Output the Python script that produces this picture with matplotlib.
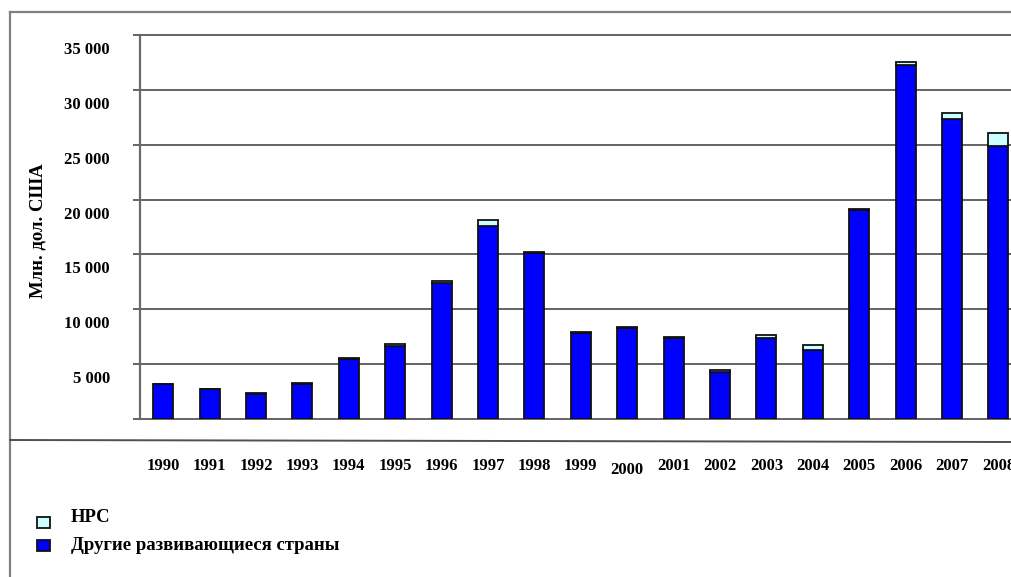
import matplotlib
matplotlib.use("Agg")
import matplotlib.pyplot as plt
import matplotlib.transforms as mtransforms
from matplotlib.patches import Rectangle
from matplotlib.lines import Line2D
import numpy as np

years = ["1990", "1991", "1992", "1993", "1994", "1995", "1996", "1997", "1998", "1999",
         "2000", "2001", "2002", "2003", "2004", "2005", "2006", "2007", "2008"]
other = [3190, 2730, 2320, 3235, 5510, 6650, 12400, 17620, 15130, 7820,
         8250, 7340, 4240, 7350, 6290, 19010, 32260, 27340, 24880]
hpc = [40, 30, 30, 40, 60, 200, 180, 500, 120, 80,
       170, 100, 200, 330, 450, 100, 300, 550, 1160]
yticks = [5000, 10000, 15000, 20000, 25000, 30000, 35000]
ytick_labels = ["5 000", "10 000", "15 000", "20 000", "25 000", "30 000", "35 000"]
series_names = ["НРС", "Другие развивающиеся страны"]
ylabel = "Млн. дол. США"

W, H = 1011, 577
fig = plt.figure(figsize=(W / 100, H / 100), dpi=100)
fig.patch.set_facecolor("white")

serif = ["Liberation Serif", "DejaVu Serif"]
fs = 12

# axes in pixel layout: left 140, baseline at y=419 (from top), top 35
ax_left, ax_top, ax_bottom = 140, 35, 419
ax_w = 46.4 * 19
ax = fig.add_axes([ax_left / W, (H - ax_bottom) / H, ax_w / W, (ax_bottom - ax_top) / H])
ax.set_facecolor("white")
x = np.arange(len(years))
ax.set_xlim(-0.5, len(years) - 0.5)
ax.set_ylim(0, 35000)

for v in [0] + yticks:
    ax.axhline(v, color="#3a3a3a", lw=1.1, zorder=1, clip_on=False)
ax.set_yticks([0] + yticks)
ax.set_yticklabels([])
ax.tick_params(axis="y", length=5, width=1.1, color="#3a3a3a", direction="out")
ax.set_xticks([])
for s in ["top", "right", "bottom"]:
    ax.spines[s].set_visible(False)
ax.spines["left"].set_color("#6a6a6a")
ax.spines["left"].set_linewidth(1.6)

blue = "#0000FF"
cyan = "#CCFFFF"
bw = 0.43
ax.bar(x, other, width=bw, color=blue, edgecolor="#111111", linewidth=1.3, zorder=3)
ax.bar(x, hpc, bottom=other, width=bw, color=cyan, edgecolor="#111111", linewidth=1.3, zorder=3)

# y tick labels (drawn slightly below their grid lines, as in the source)
off = mtransforms.ScaledTranslation(-30 / 100, -15 / 100, fig.dpi_scale_trans)
ytr = mtransforms.blended_transform_factory(ax.transAxes, ax.transData) + off
for v, lab in zip(yticks, ytick_labels):
    ax.text(0, v, lab, transform=ytr, ha="right", va="center",
            fontsize=fs, fontweight="bold", family=serif)

# x labels
xtr = mtransforms.blended_transform_factory(ax.transData, ax.transAxes)
for i, lab in enumerate(years):
    yy = -0.122 if lab != "2000" else -0.133
    ax.text(x[i], yy, lab, transform=xtr, ha="center", va="center",
            fontsize=fs, fontweight="bold", family=serif, clip_on=False)

ax.set_ylabel(ylabel, fontsize=13.5, fontweight="bold", family=serif)
ax.yaxis.set_label_coords((47 - ax_left) / ax_w, 0.49)

# outer frame lines
fig.add_artist(Line2D([10 / W, 1], [1 - 12 / H, 1 - 12 / H], color="#808080", lw=1.6))
fig.add_artist(Line2D([10 / W, 10 / W], [0, 1 - 12 / H], color="#808080", lw=1.6))
fig.add_artist(Line2D([10 / W, 1], [1 - 440 / H, 1 - 442 / H], color="#505050", lw=1.4))

# legend
leg_colors = [cyan, blue]
leg_sq_y = [517, 540]
leg_txt_y = [518, 546]
for c, sy, ty, name in zip(leg_colors, leg_sq_y, leg_txt_y, series_names):
    fig.add_artist(Rectangle((37 / W, 1 - (sy + 11) / H), 13 / W, 11 / H,
                             facecolor=c, edgecolor="#111111", lw=1.3,
                             transform=fig.transFigure))
    fig.text(71 / W, 1 - ty / H, name, ha="left", va="center", fontsize=13.5,
             fontweight="bold", family=serif)

fig.savefig("out.png", dpi=100, facecolor="white")
